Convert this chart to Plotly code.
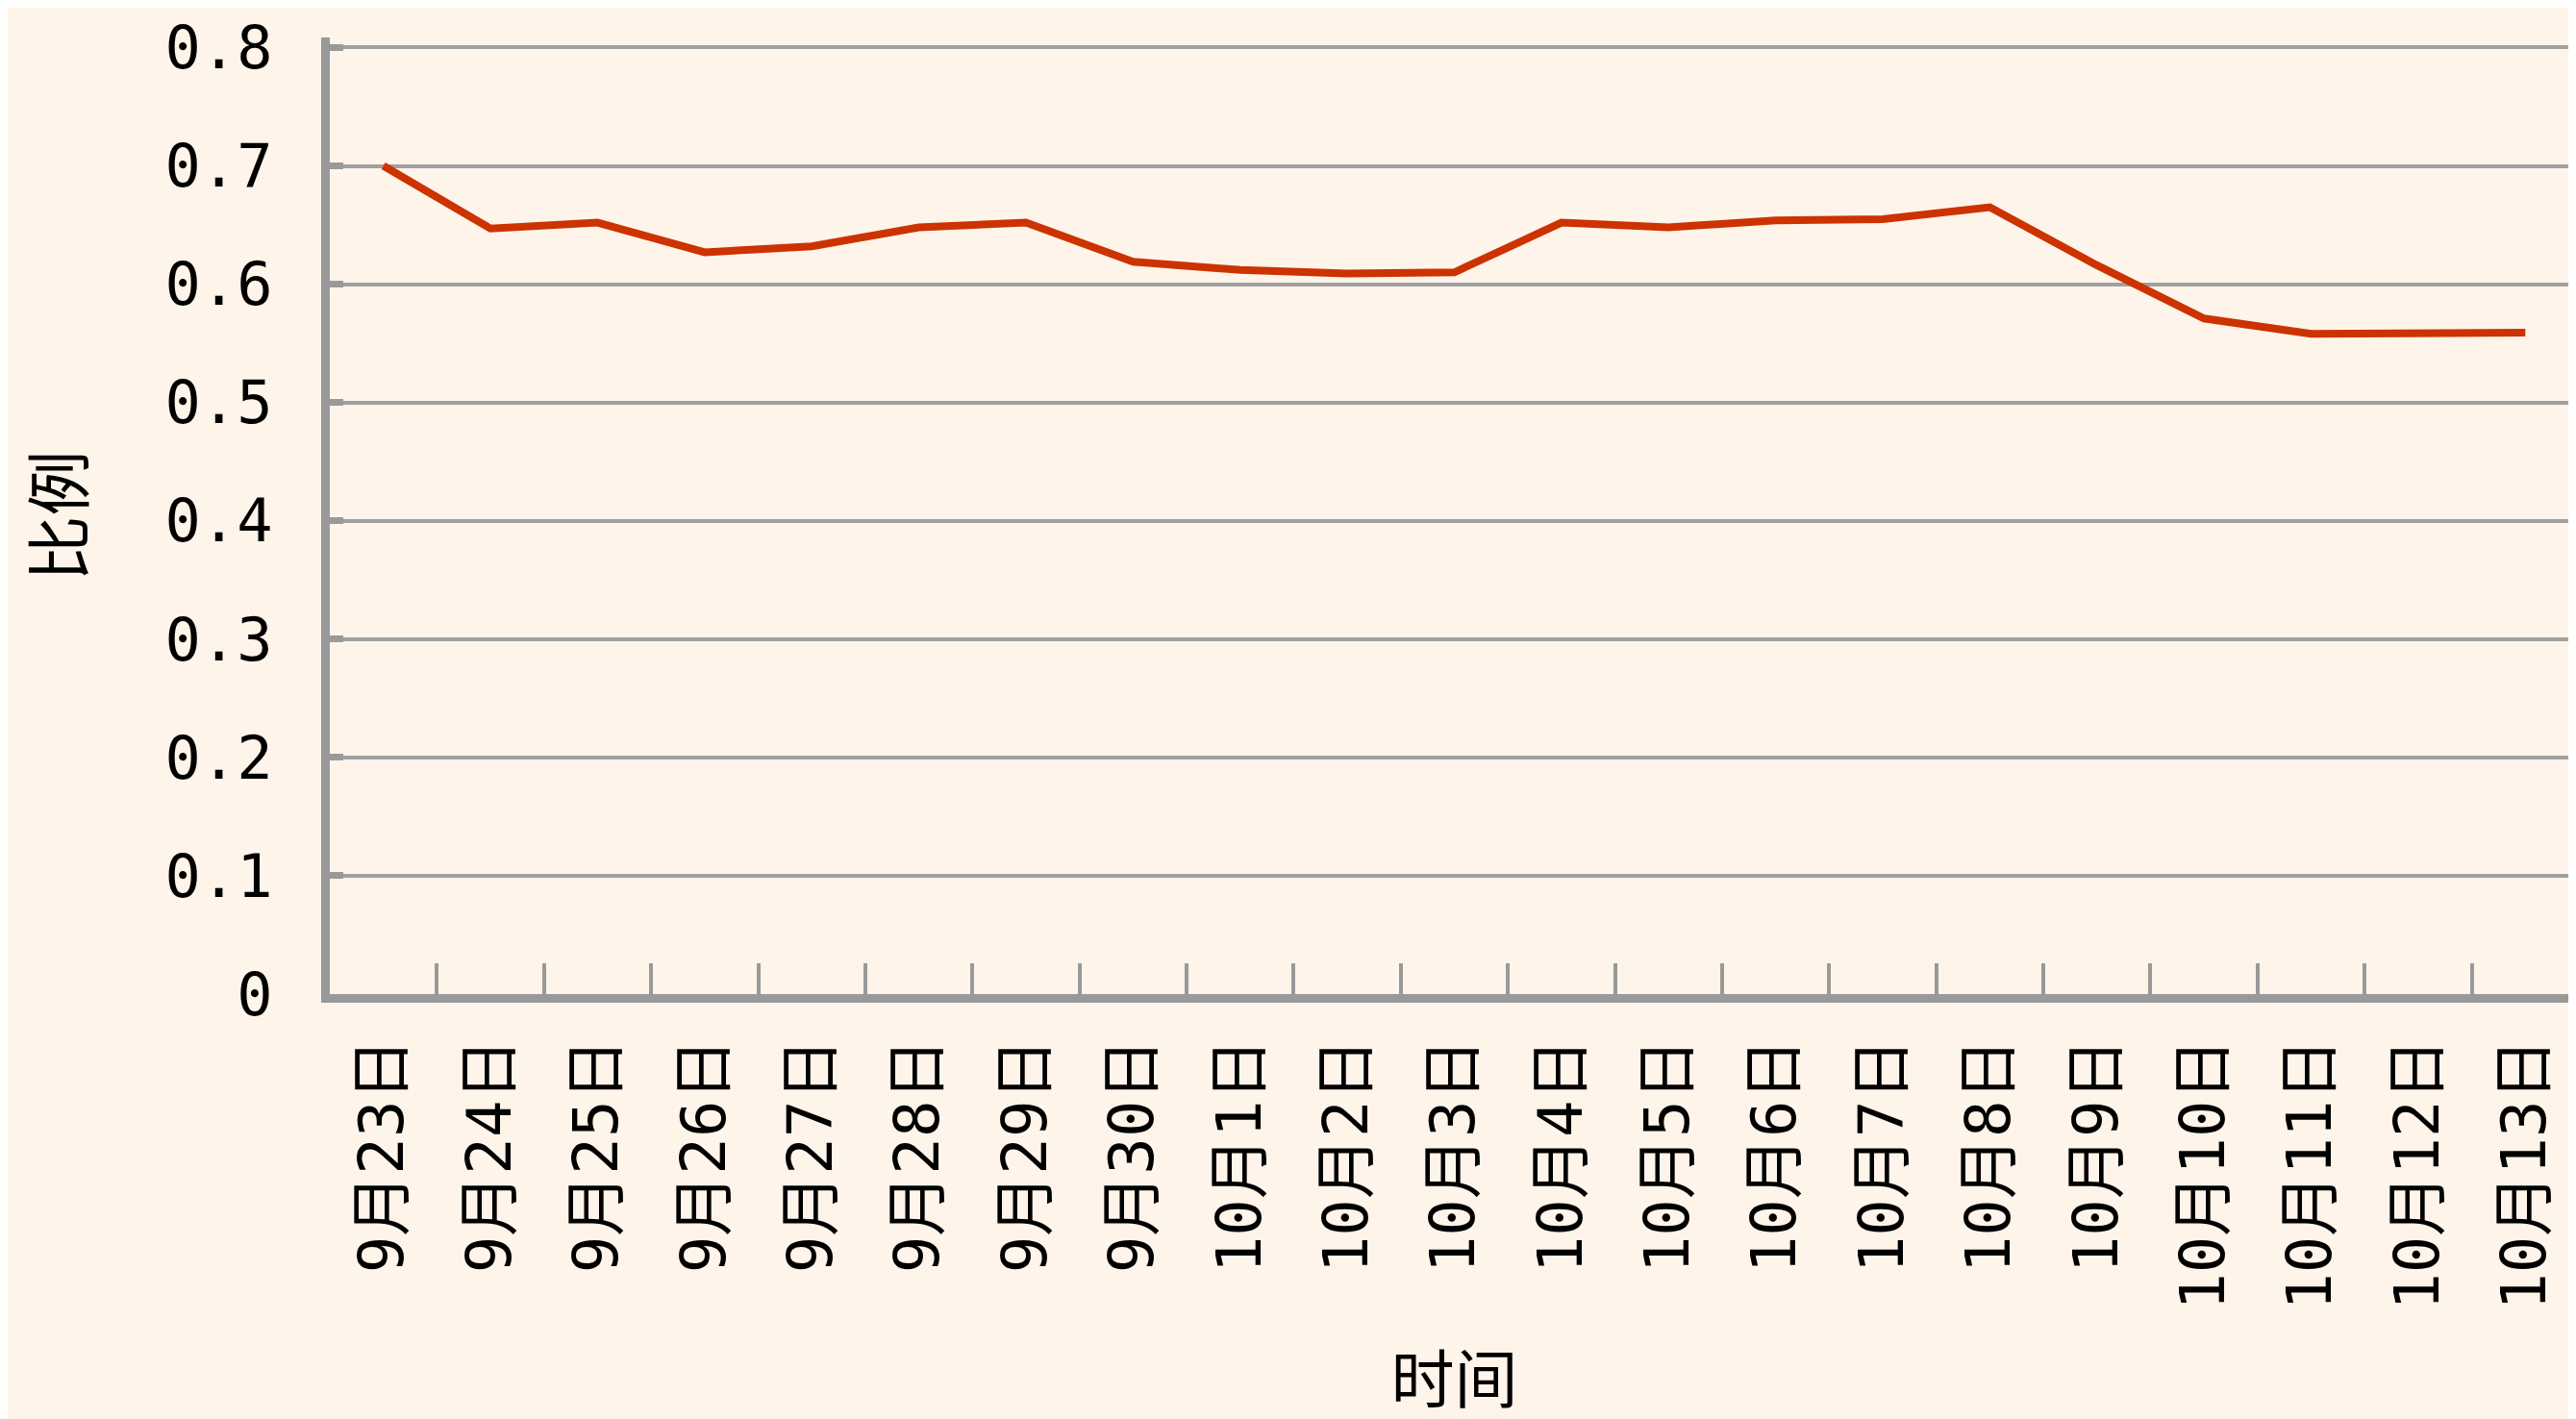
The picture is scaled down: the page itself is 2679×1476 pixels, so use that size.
import plotly.graph_objects as go

categories = ["9月23日", "9月24日", "9月25日", "9月26日", "9月27日", "9月28日", "9月29日",
              "9月30日", "10月1日", "10月2日", "10月3日", "10月4日", "10月5日", "10月6日",
              "10月7日", "10月8日", "10月9日", "10月10日", "10月11日", "10月12日", "10月13日"]
ratio = [0.700, 0.647, 0.652, 0.627, 0.632, 0.648, 0.652, 0.619, 0.612, 0.609, 0.610,
         0.652, 0.648, 0.654, 0.655, 0.665, 0.616, 0.571, 0.558, 0.558, 0.559]
y_ticks = [0, 0.1, 0.2, 0.3, 0.4, 0.5, 0.6, 0.7, 0.8]
y_tick_text = ["0", "0.1", "0.2", "0.3", "0.4", "0.5", "0.6", "0.7", "0.8"]

BG = "#FEF4EA"
GRAY = "#999999"
FONT = "DejaVu Sans Mono, Noto Sans CJK SC, sans-serif"

fig = go.Figure()
fig.add_trace(go.Scatter(x=categories, y=ratio, mode="lines",
                         line=dict(color="#CC3300", width=8), showlegend=False))

fig.update_layout(
    width=2679, height=1476,
    margin=dict(l=335, r=5, t=28, b=450),
    paper_bgcolor=BG, plot_bgcolor=BG,
    font=dict(family=FONT, size=64, color="black"),
    showlegend=False,
)
fig.update_xaxes(
    type="category", range=[-0.5, len(categories) - 0.5],
    tickangle=-90, tickson="boundaries", ticks="inside", ticklen=32,
    tickwidth=4, tickcolor=GRAY, showgrid=False,
    showline=True, linecolor=GRAY, linewidth=9,
    tickfont=dict(family=FONT, size=64, color="black"),
    ticklabelstandoff=12,
    title=dict(text="时间", font=dict(family="Noto Sans CJK SC", size=66, color="black"), standoff=55),
    zeroline=False,
)
fig.update_yaxes(
    range=[0, 0.8085], tickvals=y_ticks, ticktext=y_tick_text,
    ticks="inside", ticklen=14, tickwidth=7, tickcolor=GRAY,
    showgrid=True, gridcolor="#A0A0A0", gridwidth=4,
    showline=True, linecolor=GRAY, linewidth=9,
    tickfont=dict(family=FONT, size=62, color="black"),
    ticklabelstandoff=38,
    title=dict(text="比例", font=dict(family="Noto Sans CJK SC", size=68, color="black"), standoff=103),
    zeroline=False,
)

fig.write_html("out.html")
